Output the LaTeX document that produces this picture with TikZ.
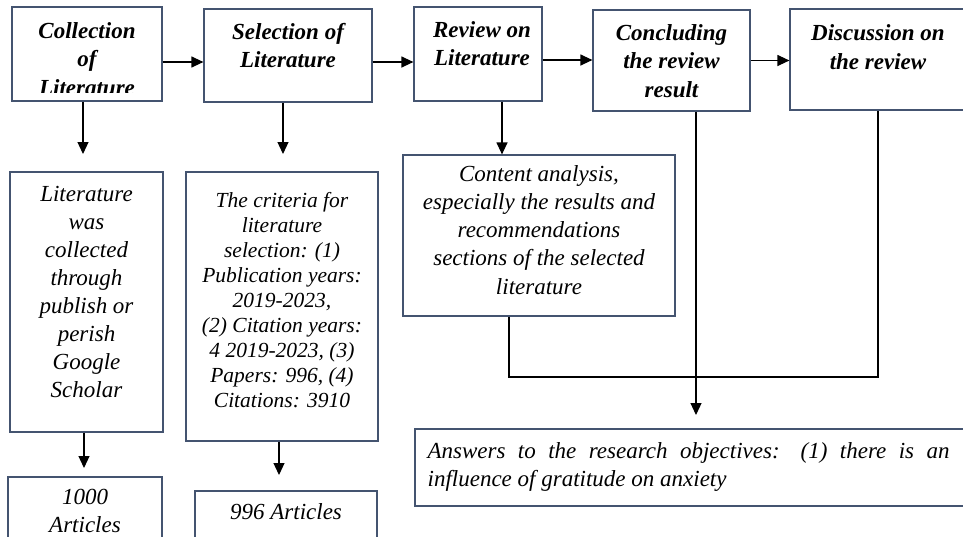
\documentclass[tikz,border=0pt]{standalone}
\usepackage{fontspec}
\setmainfont{Liberation Serif}
\usepackage{xcolor}
\usetikzlibrary{arrows.meta,positioning,fit}
\definecolor{boxedge}{RGB}{68,84,112}

\begin{document}
\begin{tikzpicture}[
    x=1pt, y=-1pt,
    box/.style={draw=boxedge, line width=1.2pt, inner sep=0pt},
    head/.style={anchor=north, align=center, inner sep=0pt, font=\bfseries\itshape\fontsize{23}{28.5}\selectfont},
    body/.style={anchor=north, align=center, inner sep=0pt, font=\itshape\fontsize{23}{28}\selectfont},
    arrow/.style={line width=1.2pt, -{Triangle[length=12pt,width=11pt]}},
    link/.style={line width=1.2pt}
]
\useasboundingbox (0,0) rectangle (963,536);

% top row of steps
\node[box, fit={(12,7) (162,101)}] (collect) {};
\node[box, fit={(204,9) (372,102)}] (select) {};
\node[box, fit={(414,7) (542,101)}] (review) {};
\node[box, fit={(593,10) (750,111)}] (conclude) {};
\node[box, fit={(790,9) (966,110)}] (discuss) {};

\begin{scope}
    \clip (collect.north west) rectangle ([yshift=9pt]collect.south east);
    \node[head] (collectT) at ([yshift=-15.5pt]collect.north) {Collection\\of\\Literature};
\end{scope}
\node[head] (selectT) at ([yshift=-14.5pt]select.north) {Selection of\\Literature};
\node[head] (reviewT) at ([xshift=4pt,yshift=-14.5pt]review.north) {Review on\\Literature};
\node[head] (concludeT) at ([yshift=-14.5pt]conclude.north) {Concluding\\the review\\result};
\node[head] (discussT) at ([yshift=-16pt]discuss.north) {Discussion on\\the review};

% details below
\node[box, fit={(10,172) (163,432)}] (litbox) {};
\node[box, fit={(186,172) (378,441)}] (critbox) {};
\node[box, fit={(403,155) (675,316)}] (content) {};
\node[box, fit={(415,429) (975,506)}] (answers) {};
\node[box, fit={(8,477) (162,548)}] (art1000) {};
\node[box, fit={(195,491) (377,548)}] (art996) {};

\node[body] (litT) at ([yshift=-14.5pt]litbox.north) {Literature\\was\\collected\\through\\publish or\\perish\\Google\\Scholar};
\node[body, font=\itshape\fontsize{21.5}{25}\selectfont] (critT) at ([yshift=-21pt]critbox.north)
    {The criteria for\\literature\\selection: (1)\\Publication years:\\2019-2023,\\(2) Citation years:\\4 2019-2023, (3)\\Papers: 996, (4)\\Citations: 3910};
\node[body, font=\itshape\fontsize{23}{28.3}\selectfont] (contentT) at ([yshift=-10.5pt]content.north)
    {Content analysis,\\especially the results and\\recommendations\\sections of the selected\\literature};
\node[body, anchor=north west, align=justify, text width=522pt] (answersT) at ([xshift=13pt,yshift=-13.5pt]answers.north west)
    {Answers to the research objectives: (1) there is an\linebreak influence of gratitude on anxiety};
\node[body] (art1000T) at ([yshift=-13pt]art1000.north) {1000\\Articles};
\node[body] (art996T) at ([yshift=-12.5pt]art996.north) {996 Articles};

% free ends of the arrows
\coordinate (collectTip) at (83,154);
\coordinate (selectTip) at (283,154);
\coordinate (reviewDrop) at (502,0);
\coordinate (litTip) at (84,468);
\coordinate (critTip) at (279,475);
\coordinate (concTip) at (696,415);
\coordinate (contentDrop) at (509,377);

\draw[arrow] ([yshift=-8pt]collect.east) -- ([yshift=-8pt]collect.east -| select.west);
\draw[arrow] ([yshift=-6.5pt]select.east) -- ([yshift=-6.5pt]select.east -| review.west);
\draw[arrow] ([yshift=-6pt]review.east) -- ([yshift=-6pt]review.east -| conclude.west);
\draw[arrow] (conclude.east) -- (conclude.east -| discuss.west);

\draw[arrow] (collect.south -| collectTip) -- (collectTip);
\draw[arrow] (select.south -| selectTip) -- (selectTip);
\draw[arrow] (review.south -| reviewDrop) -- (content.north -| reviewDrop);
\draw[arrow] (litbox.south -| litTip) -- (litTip);
\draw[arrow] (critbox.south -| critTip) -- (critTip);

\draw[link] (content.south -| contentDrop) -- (contentDrop) -| (discuss.south);
\draw[arrow] (conclude.south -| concTip) -- (concTip);
\end{tikzpicture}
\end{document}
